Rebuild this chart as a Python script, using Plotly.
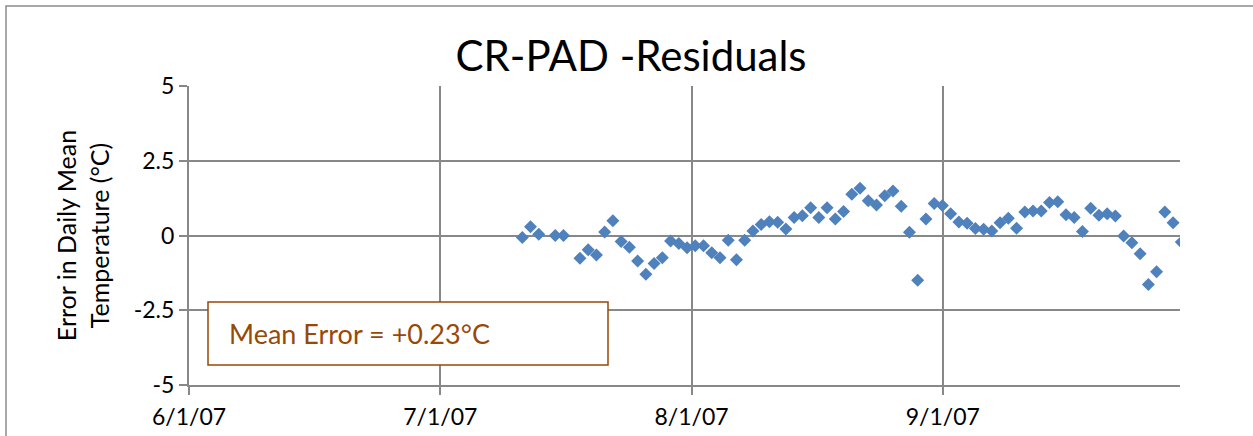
import pandas as pd
import plotly.graph_objects as go

# ---- data ----
dates = [
    "2007-07-11", "2007-07-12", "2007-07-13", "2007-07-15", "2007-07-16",
    "2007-07-18", "2007-07-19", "2007-07-20", "2007-07-21", "2007-07-22",
    "2007-07-23", "2007-07-24", "2007-07-25", "2007-07-26", "2007-07-27",
    "2007-07-28", "2007-07-29", "2007-07-30", "2007-07-31", "2007-08-01",
    "2007-08-02", "2007-08-03", "2007-08-04", "2007-08-05", "2007-08-06",
    "2007-08-07", "2007-08-08", "2007-08-09", "2007-08-10", "2007-08-11",
    "2007-08-12", "2007-08-13", "2007-08-14", "2007-08-15", "2007-08-16",
    "2007-08-17", "2007-08-18", "2007-08-19", "2007-08-20", "2007-08-21",
    "2007-08-22", "2007-08-23", "2007-08-24", "2007-08-25", "2007-08-26",
    "2007-08-27", "2007-08-28", "2007-08-29", "2007-08-30", "2007-08-31",
    "2007-09-01", "2007-09-02", "2007-09-03", "2007-09-04", "2007-09-05",
    "2007-09-06", "2007-09-07", "2007-09-08", "2007-09-09", "2007-09-10",
    "2007-09-11", "2007-09-12", "2007-09-13", "2007-09-14", "2007-09-15",
    "2007-09-16", "2007-09-17", "2007-09-18", "2007-09-19", "2007-09-20",
    "2007-09-21", "2007-09-22", "2007-09-23", "2007-09-24", "2007-09-25",
    "2007-09-26", "2007-09-27", "2007-09-28", "2007-09-29",
]
residuals = [
    -0.07, 0.29, 0.04, 0.00, 0.00,
    -0.76, -0.48, -0.65, 0.12, 0.49,
    -0.20, -0.39, -0.85, -1.30, -0.94,
    -0.74, -0.18, -0.27, -0.41, -0.34,
    -0.34, -0.58, -0.74, -0.16, -0.81,
    -0.16, 0.15, 0.37, 0.46, 0.44,
    0.22, 0.60, 0.66, 0.93, 0.60,
    0.93, 0.55, 0.80, 1.38, 1.58,
    1.16, 1.02, 1.33, 1.49, 0.98,
    0.11, -1.50, 0.55, 1.07, 1.00,
    0.73, 0.45, 0.41, 0.23, 0.21,
    0.15, 0.43, 0.58, 0.24, 0.79,
    0.82, 0.82, 1.10, 1.13, 0.69,
    0.60, 0.13, 0.91, 0.68, 0.73,
    0.65, -0.02, -0.24, -0.61, -1.64,
    -1.21, 0.79, 0.43, -0.22,
]
x_axis_start = "2007-06-01"
x_major_unit_days = 30.5          # Excel value-axis major unit
x_tick_labels = ["6/1/07", "7/1/07", "8/1/07", "9/1/07"]
y_ticks = [-5, -2.5, 0, 2.5, 5]
y_tick_labels = ["-5", "-2.5", "0", "2.5", "5"]
mean_error_text = "Mean Error = +0.23°C"

FONT = "Lato"
GRID = "#888888"
BROWN = "#984807"

start = pd.Timestamp(x_axis_start)
x_tickvals = [start + pd.Timedelta(days=x_major_unit_days * k) for k in range(len(x_tick_labels))]
x_range = [start, start + pd.Timedelta(days=120.3)]

# daily means plotted near mid-day
x_vals = pd.to_datetime(dates) + pd.Timedelta(hours=11)

fig = go.Figure()
fig.add_trace(go.Scatter(
    x=x_vals, y=residuals, mode="markers",
    marker=dict(symbol="diamond", size=10, color="#4F81BD",
                line=dict(width=0)),
    showlegend=False,
))

W, H = 1253, 436
ml, mr, mt, mb = 189, 73, 86, 51
pw, ph = W - ml - mr, H - mt - mb

def px_x(p):
    return (p - ml) / pw

def px_y(p):
    return (H - mb - p) / ph

fig.update_layout(
    width=W, height=H,
    margin=dict(l=ml, r=mr, t=mt, b=mb, autoexpand=False),
    paper_bgcolor="white", plot_bgcolor="white",
    font=dict(family=FONT, color="#000000", size=23),
    title=dict(text="CR-PAD -Residuals", font=dict(family=FONT, size=42, color="#000000"),
               xref="container", x=631 / W, xanchor="center",
               yref="container", y=1 - 56 / H, yanchor="middle"),
    xaxis=dict(
        type="date", automargin=False,
        range=x_range,
        tickvals=x_tickvals, ticktext=x_tick_labels,
        showgrid=True, gridcolor=GRID, gridwidth=1.5,
        showline=True, linecolor=GRID, linewidth=2,
        ticks="outside", ticklen=8, tickcolor=GRID, tickwidth=1.5,
        tickfont=dict(size=23, color="#000000"),
        ticklabelstandoff=2,
        zeroline=False,
    ),
    yaxis=dict(
        automargin=False,
        range=[-5, 5],
        tickvals=y_ticks, ticktext=y_tick_labels,
        showgrid=True, gridcolor=GRID, gridwidth=1.5,
        showline=True, linecolor=GRID, linewidth=2,
        ticks="outside", ticklen=8, tickcolor=GRID, tickwidth=1.5,
        tickfont=dict(size=23, color="#000000"),
        zeroline=False,
        title=dict(text="Error in Daily Mean<br>Temperature (°C)",
                   font=dict(size=25, color="#000000"), standoff=17),
    ),
)

# chart outer border (extends beyond the photographed window)
fig.add_shape(type="rect", xref="paper", yref="paper",
              x0=px_x(6), x1=px_x(1300), y0=px_y(6), y1=px_y(480),
              line=dict(color="#8c8c8c", width=1.5), fillcolor="rgba(0,0,0,0)",
              layer="below")

# mean error box
fig.add_shape(type="rect", xref="paper", yref="paper",
              x0=px_x(208), x1=px_x(608), y0=px_y(365), y1=px_y(302),
              line=dict(color=BROWN, width=1.5), fillcolor="white", layer="above")
fig.add_annotation(text=mean_error_text, xref="paper", yref="paper",
                   x=px_x(227), y=px_y(333), xanchor="left", yanchor="middle",
                   showarrow=False, font=dict(family=FONT, size=27, color=BROWN))

fig.write_html("out.html", config={"displayModeBar": False},
               post_script="document.body.style.margin='0';")
